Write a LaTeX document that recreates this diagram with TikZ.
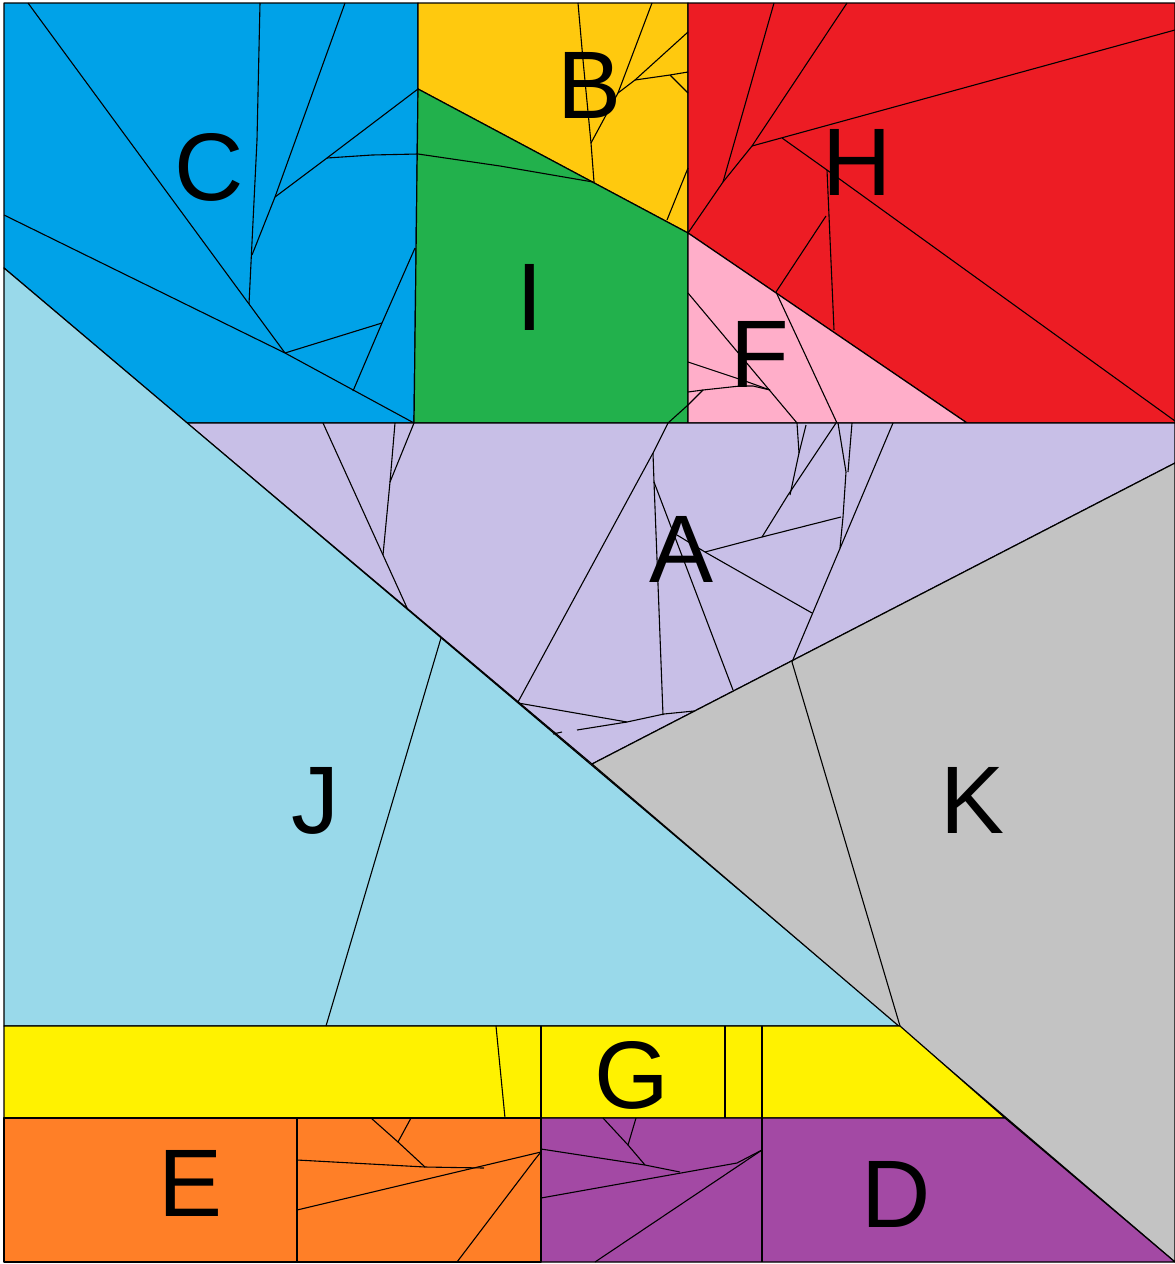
\documentclass[tikz,border=0pt]{standalone}
\usepackage{fontspec}
\setmainfont{Liberation Sans}
\definecolor{cA}{HTML}{C8BFE7}
\definecolor{cB}{HTML}{FFC90E}
\definecolor{cC}{HTML}{00A2E8}
\definecolor{cD}{HTML}{A349A4}
\definecolor{cE}{HTML}{FF7F27}
\definecolor{cF}{HTML}{FFAEC9}
\definecolor{cG}{HTML}{FFF200}
\definecolor{cH}{HTML}{ED1C24}
\definecolor{cI}{HTML}{22B14C}
\definecolor{cJ}{HTML}{99D9EA}
\definecolor{cK}{HTML}{C3C3C3}
\begin{document}
\begin{tikzpicture}[x=1pt,y=-1pt,
  region/.style={draw=black,line width=1.2pt,line join=round},
  seam/.style={draw=black,line width=1.1pt,line join=round},
  lbl/.style={anchor=base,inner sep=0pt,font=\fontsize{96}{96}\selectfont}]
\useasboundingbox (0,0) rectangle (1175,1264);
\fill[white] (0,0) rectangle (1175,1264);
% regions
\filldraw[region,fill=cC] (4,3)--(418,3)--(418,89)--(414,423)--(187,423)--(4,268)--cycle;
\filldraw[region,fill=cB] (418,3)--(688,3)--(688,233)--(418,89)--cycle;
\filldraw[region,fill=cI] (418,89)--(688,233)--(688,423)--(414,423)--cycle;
\filldraw[region,fill=cH] (688,3)--(1175,3)--(1175,423)--(967,423)--(688,233)--cycle;
\filldraw[region,fill=cF] (688,233)--(967,423)--(688,423)--cycle;
\filldraw[region,fill=cA] (187,423)--(1175,423)--(1175,463)--(592,764)--cycle;
\filldraw[region,fill=cJ] (4,268)--(900,1026)--(4,1026)--cycle;
\filldraw[region,fill=cK] (592,764)--(1175,463)--(1175,1262)--cycle;
\filldraw[region,fill=cG] (4,1026)--(900,1026)--(1005,1118)--(4,1118)--cycle;
\filldraw[region,fill=cE] (4,1118)--(541,1118)--(541,1262)--(4,1262)--cycle;
\filldraw[region,fill=cD] (541,1118)--(1005,1118)--(1175,1262)--(541,1262)--cycle;
% C seams
\draw[seam] (28,3)--(249,304)--(285,353);
\draw[seam] (260,3)--(257,140)--(249,304);
\draw[seam] (345,3)--(275,197)--(252,255);
\draw[seam] (418,89)--(327,158)--(275,197);
\draw[seam] (327,158)--(372,155)--(418,154)--(500,166)--(593,182);
\draw[seam] (4,215)--(285,353)--(414,423);
\draw[seam] (285,353)--(382,323);
\draw[seam] (415,248)--(382,323)--(353,391);
% B seams
\draw[seam] (578,3)--(583,60)--(591,143)--(594,182);
\draw[seam] (591,143)--(605,117)--(618,93);
\draw[seam] (652,3)--(618,93);
\draw[seam] (618,93)--(635,80)--(688,32);
\draw[seam] (635,80)--(670,75)--(688,72);
\draw[seam] (670,75)--(688,93);
\draw[seam] (688,168)--(667,220);
% H seams
\draw[seam] (688,233)--(723,182)--(752,146);
\draw[seam] (723,182)--(774,3);
\draw[seam] (752,146)--(847,3);
\draw[seam] (752,146)--(1175,30);
\draw[seam] (782,138)--(827,170)--(1175,421);
\draw[seam] (827,170)--(834,330);
\draw[seam] (826,216)--(776,292);
% F seams
\draw[seam] (688,293)--(797,423);
\draw[seam] (688,362)--(745,381)--(770,390);
\draw[seam] (688,392)--(703,390)--(740,386)--(753,386)--(770,390);
\draw[seam] (776,292)--(837,423);
\draw[seam] (703,390)--(688,405)--(668,423)--(653,453)--(518,702);
% A seams
\draw[seam] (797,423)--(799,453)--(790,495);
\draw[seam] (806,425)--(799,453);
\draw[seam] (836,423)--(788,495)--(762,537);
\draw[seam] (838,423)--(846,472)--(843,517)--(840,548);
\draw[seam] (852,423)--(848,472);
\draw[seam] (893,423)--(792,662);
\draw[seam] (841,517)--(762,537)--(705,552);
\draw[seam] (812,613)--(705,552);
\draw[seam] (677,535)--(705,552);
\draw[seam] (654,482)--(733,690);
\draw[seam] (653,453)--(654,482)--(659,610)--(663,715);
\draw[seam] (518,703)--(627,722)--(664,714)--(694,711);
\draw[seam] (577,730)--(627,722);
\draw[seam] (553,734)--(562,732);
\draw[seam] (323,423)--(383,555)--(408,610);
\draw[seam] (395,423)--(390,482)--(383,555);
\draw[seam] (414,423)--(390,482);
% J, K seams
\draw[seam] (441,638)--(326,1026);
\draw[seam] (792,662)--(900,1026);
% G seams
\draw[seam] (496,1026)--(505,1118);
\draw[seam] (725,1026)--(725,1118);
\draw[seam] (762,1026)--(762,1262);
\draw[seam] (541,1026)--(541,1262);
% E seams
\draw[seam] (297,1118)--(297,1262);
\draw[seam] (297,1160)--(425,1167)--(484,1168);
\draw[seam] (297,1210)--(541,1152);
\draw[seam] (457,1262)--(536,1158)--(541,1152);
\draw[seam] (371,1118)--(398,1142)--(425,1167);
\draw[seam] (411,1118)--(398,1142);
% D seams
\draw[seam] (541,1149)--(645,1165)--(680,1172);
\draw[seam] (541,1198)--(737,1163)--(762,1150);
\draw[seam] (595,1262)--(762,1150);
\draw[seam] (603,1118)--(628,1145)--(645,1165);
\draw[seam] (636,1118)--(628,1145);
% labels
\node[lbl] (lA) at (682,582) {A};
\node[lbl] (lB) at (590,118) {B};
\node[lbl] (lC) at (209,200) {C};
\node[lbl] (lD) at (896,1227) {D};
\node[lbl] (lE) at (191,1216) {E};
\node[lbl] (lF) at (760,387) {F};
\node[lbl] (lG) at (632,1108) {G};
\node[lbl] (lH) at (857,195) {H};
\node[lbl] (lI) at (530,330) {I};
\node[lbl] (lJ) at (315,833) {J};
\node[lbl] (lK) at (973,833) {K};
\end{tikzpicture}
\end{document}
